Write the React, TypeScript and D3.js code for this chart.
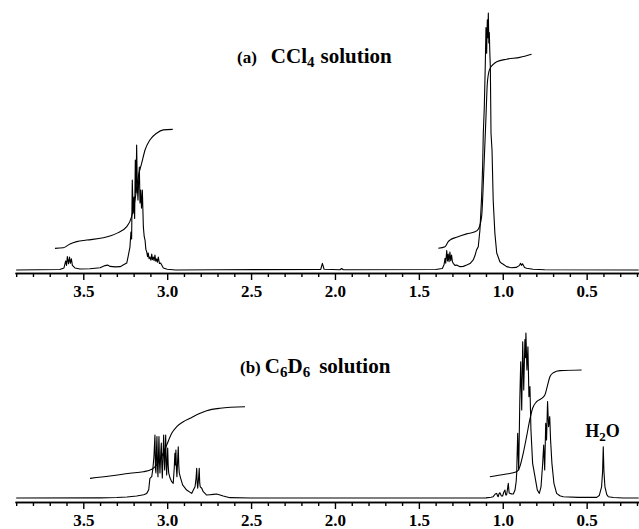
import React, { useEffect, useRef } from 'react'
import * as d3 from 'd3'

// chemical shift ticks (ppm)
const majorTicks = [3.5, 3.0, 2.5, 2.0, 1.5, 1.0, 0.5]
const minorTicks = [3.9, 3.8, 3.7, 3.6, 3.4, 3.3, 3.2, 3.1, 2.9, 2.8, 2.7, 2.6, 2.4, 2.3, 2.2, 2.1, 1.9, 1.8, 1.7, 1.6, 1.4, 1.3, 1.2, 1.1, 0.9, 0.8, 0.7, 0.6, 0.4, 0.3, 0.2]

// (a) CCl4 spectrum: [ppm, relative intensity]
const ccl4Trace: [number, number][] = [
  [3.9, 0], [3.64, 0.2], [3.615, 0.8], [3.605, 3.5], [3.6, 1.8], [3.595, 5.2], [3.588, 2.4], [3.582, 5.0],
  [3.577, 2.6], [3.571, 4.3], [3.565, 1.8], [3.55, 0.8], [3.52, 0.4], [3.46, 0.5], [3.4, 0.9], [3.37, 1.7],
  [3.355, 1.9], [3.34, 1.4], [3.31, 1.2], [3.28, 1.3], [3.26, 2.0], [3.241, 2.7], [3.232, 5.5], [3.222, 8.9],
  [3.216, 14.7], [3.212, 12], [3.208, 34.9], [3.203, 22], [3.198, 28.3], [3.194, 20], [3.19, 42.6], [3.186, 30],
  [3.182, 48.4], [3.178, 32], [3.174, 27.1], [3.17, 35], [3.166, 39.9], [3.162, 26], [3.158, 31], [3.153, 24],
  [3.148, 31], [3.142, 16.7], [3.137, 13], [3.132, 11.6], [3.127, 8], [3.122, 7], [3.117, 5.2], [3.113, 6.6],
  [3.108, 4.4], [3.103, 5], [3.097, 3.8], [3.092, 6.2], [3.088, 4], [3.083, 5], [3.078, 3.6], [3.073, 5.8],
  [3.068, 3.4], [3.063, 4.3], [3.058, 3.0], [3.053, 5], [3.046, 2.5], [3.039, 2.7], [3.023, 0.8], [3.0, 0.3],
  [2.95, 0], [2.7, 0.1], [2.085, 0.2], [2.075, 2.6], [2.065, 0.3], [1.97, 0.1], [1.96, 0.6], [1.95, 0.1],
  [1.4, 0.2], [1.36, 0.6], [1.35, 2.0], [1.344, 4.5], [1.34, 2.6], [1.334, 7.5], [1.329, 3.5], [1.325, 6.2],
  [1.32, 3.2], [1.315, 7.0], [1.31, 3.6], [1.305, 5.8], [1.3, 3.2], [1.295, 2.6], [1.285, 1.8], [1.275, 1.9],
  [1.255, 1.3], [1.235, 1.4], [1.215, 1.9], [1.195, 2.5], [1.176, 3.9], [1.166, 5.5], [1.156, 7.8], [1.146, 9],
  [1.136, 15.5], [1.126, 28.4], [1.12, 40], [1.116, 53], [1.11, 63], [1.104, 80], [1.1, 94], [1.096, 84],
  [1.092, 97], [1.089, 90], [1.086, 99.6], [1.083, 88], [1.08, 92], [1.077, 84], [1.074, 78.7], [1.07, 53],
  [1.064, 46.5], [1.057, 27], [1.047, 14.3], [1.036, 6.6], [1.017, 3.2], [1.007, 2.6], [0.997, 2.2], [0.977, 1.3],
  [0.95, 0.9], [0.92, 1.0], [0.9, 1.8], [0.894, 2.6], [0.888, 1.8], [0.882, 2.4], [0.87, 1.0], [0.858, 0.7],
  [0.82, 0.3], [0.75, 0.1], [0.19, 0]
]
const ccl4IntegralA: [number, number][] = [
  [3.669, 8.4], [3.619, 8.6], [3.579, 10.1], [3.539, 11], [3.48, 11.6], [3.381, 12.5], [3.301, 14.2],
  [3.241, 16.8], [3.212, 20.7], [3.192, 27.1], [3.172, 36.2], [3.152, 41.4], [3.132, 46.5], [3.103, 50.4],
  [3.063, 53], [3.023, 54.3], [2.967, 54.5]
]
const ccl4IntegralB: [number, number][] = [
  [1.384, 8.4], [1.344, 9], [1.325, 11], [1.315, 11.6], [1.275, 12.7], [1.215, 14], [1.166, 14.8],
  [1.146, 15.8], [1.126, 20.7], [1.112, 40], [1.1, 59.4], [1.092, 72.4], [1.08, 77.5], [1.06, 79.5],
  [1.036, 80.7], [0.977, 81.7], [0.898, 82.4], [0.828, 83.6]
]

// (b) C6D6 spectrum: [ppm, relative intensity]
const c6d6Trace: [number, number][] = [
  [3.9, 0], [3.4, 0.1], [3.301, 0.3], [3.24, 0.6], [3.182, 1.2], [3.14, 2.0], [3.122, 2.8], [3.11, 5],
  [3.103, 11.9], [3.092, 12.9], [3.085, 18], [3.079, 25], [3.073, 38.2], [3.07, 18], [3.067, 15.2], [3.064, 28],
  [3.061, 37.2], [3.058, 20], [3.055, 12.9], [3.052, 25], [3.049, 37.2], [3.046, 22], [3.043, 15.2], [3.038, 28],
  [3.035, 33.3], [3.032, 20], [3.029, 12.1], [3.025, 25], [3.021, 38.2], [3.018, 25], [3.015, 17], [3.012, 28],
  [3.009, 38.2], [3.006, 22], [3.003, 13.9], [3.0, 22], [2.997, 30.3], [2.994, 20], [2.991, 15.2], [2.983, 12.1],
  [2.973, 9.9], [2.964, 8.9], [2.958, 18], [2.954, 27.1], [2.951, 20], [2.948, 29.1], [2.945, 18], [2.942, 12.9],
  [2.938, 22], [2.934, 31.1], [2.931, 20], [2.928, 15.2], [2.92, 12.1], [2.908, 7.9], [2.884, 4.8], [2.854, 2.8],
  [2.844, 4.8], [2.834, 6.8], [2.828, 12], [2.824, 18], [2.821, 9], [2.818, 5.9], [2.813, 12], [2.809, 18],
  [2.806, 9], [2.803, 6.8], [2.794, 5.9], [2.785, 3.8], [2.765, 1.8], [2.745, 2.0], [2.725, 2.2], [2.705, 2.4],
  [2.685, 1.8], [2.666, 1.2], [2.626, 0.2], [2.5, 0], [1.1, 0.1], [1.07, 0.5], [1.057, 0.8], [1.045, 2.4],
  [1.036, 2.8], [1.031, 1.2], [1.027, 0.8], [1.022, 2.6], [1.017, 3.2], [1.008, 1.2], [1.001, 1.2], [0.994, 3.5],
  [0.987, 4.8], [0.982, 1.8], [0.977, 1.8], [0.971, 6], [0.967, 8.9], [0.962, 3], [0.957, 2.8], [0.947, 2.5],
  [0.937, 2.4], [0.927, 4.8], [0.92, 10], [0.917, 15], [0.911, 39.2], [0.905, 17], [0.898, 61.4], [0.893, 82.6],
  [0.887, 53.3], [0.881, 94.7], [0.875, 65.5], [0.868, 96], [0.865, 85], [0.862, 100], [0.856, 77.6],
  [0.85, 91.7], [0.844, 61.4], [0.838, 67.5], [0.832, 41.2], [0.822, 21], [0.808, 12.9], [0.794, 4.8],
  [0.782, 2.8], [0.772, 6.8], [0.762, 21], [0.756, 32.1], [0.75, 17], [0.744, 45.3], [0.739, 35.2], [0.733, 58.4],
  [0.727, 43.2], [0.72, 49.3], [0.715, 35.2], [0.707, 21], [0.695, 8.9], [0.679, 2.8], [0.66, 1.4], [0.64, 0.8],
  [0.55, 0.4], [0.44, 0.4], [0.425, 1.5], [0.411, 6.8], [0.405, 16], [0.401, 31.1], [0.397, 16], [0.391, 6.8],
  [0.38, 2], [0.371, 0.8], [0.34, 0.3], [0.282, 0], [0.19, 0]
]
const c6d6IntegralA: [number, number][] = [
  [3.46, 11.9], [3.341, 13.3], [3.222, 15], [3.142, 15.9], [3.092, 17.4], [3.063, 20], [3.033, 25],
  [3.003, 32.1], [2.973, 39.2], [2.943, 43.2], [2.904, 46.2], [2.864, 48.3], [2.804, 51.3], [2.765, 52.9],
  [2.685, 54.4], [2.536, 55.3]
]
const c6d6IntegralB: [number, number][] = [
  [1.077, 12.9], [0.987, 14.4], [0.917, 15.9], [0.898, 19], [0.878, 27.1], [0.858, 37.2], [0.839, 47.3],
  [0.822, 54.4], [0.798, 58.4], [0.768, 60.4], [0.749, 62.4], [0.735, 67.5], [0.719, 73.5], [0.699, 75.9],
  [0.659, 77.2], [0.53, 77.6]
]
const waterShift = 0.401

const W = 639
const H = 529
const serif = 'Liberation Serif, Times New Roman, Times, serif'

const x = d3.scaleLinear().domain([3.907, 0.188]).range([15, 639])
const yTop = d3.scaleLinear().domain([0, 100]).range([270, 12])
const yBottom = d3.scaleLinear().domain([0, 100]).range([498, 333])

const Axis: React.FC<{ y: number }> = ({ y }) => {
  const ref = useRef<SVGGElement | null>(null)
  useEffect(() => {
    if (!ref.current) return
    const g = d3.select(ref.current)
    g.selectAll('*').remove()
    const minor = g.append('g').call(d3.axisBottom(x).tickValues(minorTicks).tickSize(4).tickSizeOuter(0).tickFormat(() => ''))
    const major = g
      .append('g')
      .call(d3.axisBottom(x).tickValues(majorTicks).tickSize(7).tickSizeOuter(0).tickPadding(5).tickFormat(d3.format('.1f')))
    ;[minor, major].forEach((a) => {
      a.selectAll('path, line').attr('stroke', '#000').attr('stroke-width', 1.4)
    })
    major.attr('font-family', null).attr('font-size', null)
    major
      .selectAll('text')
      .attr('fill', '#000')
      .attr('font-family', serif)
      .attr('font-weight', 'bold')
      .attr('font-size', 17)
  }, [])
  return <g ref={ref} transform={`translate(0,${y})`} />
}

export default function App() {
  const lineTop = d3.line<[number, number]>().x((d) => x(d[0])).y((d) => yTop(d[1]))
  const lineBottom = d3.line<[number, number]>().x((d) => x(d[0])).y((d) => yBottom(d[1]))
  const integTop = d3.line<[number, number]>().x((d) => x(d[0])).y((d) => yTop(d[1])).curve(d3.curveMonotoneX)
  const integBottom = d3.line<[number, number]>().x((d) => x(d[0])).y((d) => yBottom(d[1])).curve(d3.curveMonotoneX)

  const stroke = { fill: 'none', stroke: '#000', strokeWidth: 1.1, strokeLinejoin: 'round' as const }

  return (
    <svg width={W} height={H} style={{ position: 'absolute', left: 0, top: 0, background: '#fff' }}>
      <rect width={W} height={H} fill="#fff" />
      <g fontFamily={serif} fontWeight="bold" fill="#000">
        <text x={237} y={63}>
          <tspan fontSize={17}>(a)</tspan>
          <tspan dx={14} fontSize={21}>CCl</tspan>
          <tspan dy={4} fontSize={15}>4</tspan>
          <tspan dx={6} dy={-4} fontSize={21}>solution</tspan>
        </text>
        <text x={240} y={373}>
          <tspan fontSize={17}>(b)</tspan>
          <tspan dx={4} fontSize={21}>C</tspan>
          <tspan dy={4} fontSize={15}>6</tspan>
          <tspan dy={-4} fontSize={21}>D</tspan>
          <tspan dy={4} fontSize={15}>6</tspan>
          <tspan dx={9} dy={-4} fontSize={21}>solution</tspan>
        </text>
        <text x={x(waterShift) - 18} y={437}>
          <tspan fontSize={18}>H</tspan>
          <tspan dy={4} fontSize={13}>2</tspan>
          <tspan dy={-4} fontSize={18}>O</tspan>
        </text>
      </g>

      <path d={lineTop(ccl4Trace) ?? ''} {...stroke} />
      <path d={integTop(ccl4IntegralA) ?? ''} {...stroke} />
      <path d={integTop(ccl4IntegralB) ?? ''} {...stroke} />
      <Axis y={273} />

      <path d={lineBottom(c6d6Trace) ?? ''} {...stroke} />
      <path d={integBottom(c6d6IntegralA) ?? ''} {...stroke} />
      <path d={integBottom(c6d6IntegralB) ?? ''} {...stroke} />
      <Axis y={502} />
    </svg>
  )
}
